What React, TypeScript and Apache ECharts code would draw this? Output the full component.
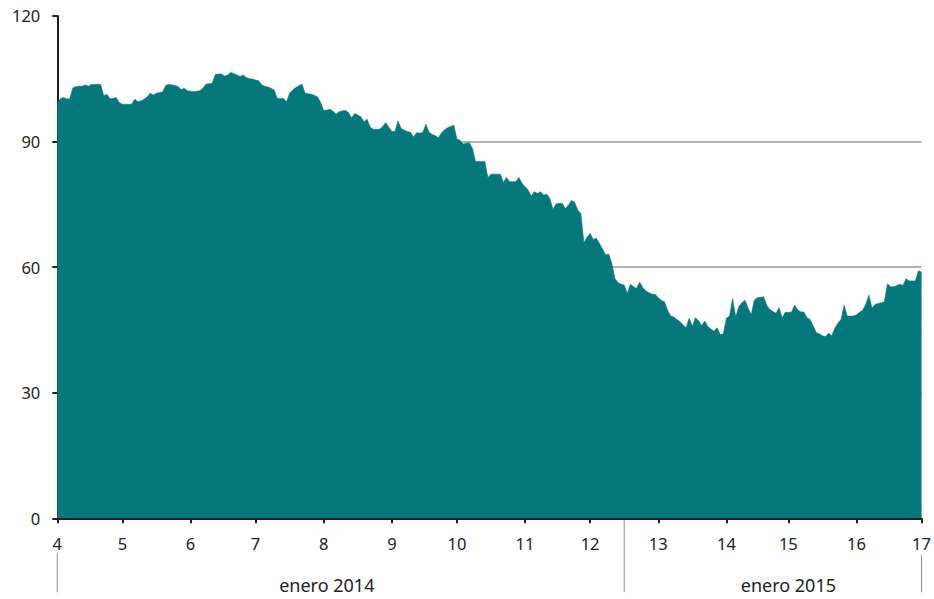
import React, { useEffect, useRef } from "react";
import * as echarts from "echarts";

// Tick labels shown along the x axis and the number of daily points between consecutive ticks
const tickLabels = ["4", "5", "6", "7", "8", "9", "10", "11", "12", "13", "14", "15", "16", "17"];
const daysBetweenTicks = [21, 22, 21, 22, 22, 21, 22, 21, 22, 22, 20, 22, 21];

// Group labels under the axis
const groupLabels = ["enero 2014", "enero 2015"];

// Y axis ticks
const yTicks = [0, 30, 60, 90, 120];

// Daily values
const values = [
  99.1, 100.2, 100.5, 100.2, 100.1, 102.8, 103.1, 103.2, 103.2, 103.5,
  103.2, 103.6, 103.6, 103.7, 103.6, 100.9, 101.3, 100.2, 100.3, 100.5,
  99.3, 98.9, 98.9, 98.9, 98.9, 100.1, 99.5, 99.7, 100.1, 100.6,
  101.5, 101.1, 101.5, 101.7, 101.8, 103.4, 103.6, 103.5, 103.4, 103.1,
  102.4, 102.7, 102.1, 102.0, 101.9, 102.0, 102.1, 102.7, 103.7, 103.8,
  103.9, 106.0, 106.1, 106.1, 105.6, 105.9, 106.5, 106.2, 105.9, 105.5,
  105.9, 105.3, 105.0, 104.9, 104.7, 104.5, 103.5, 103.2, 103.0, 102.7,
  102.3, 100.3, 100.3, 100.3, 99.5, 101.5, 102.3, 102.9, 103.3, 103.7,
  101.5, 101.4, 101.3, 101.0, 100.7, 99.3, 97.4, 97.5, 97.7, 97.2,
  96.5, 97.1, 97.3, 97.4, 96.9, 95.6, 96.7, 96.3, 95.9, 94.7,
  95.3, 93.4, 92.9, 92.9, 92.9, 93.5, 94.5, 93.4, 92.4, 92.4,
  94.9, 93.1, 92.7, 92.4, 92.2, 91.1, 92.1, 92.0, 92.2, 94.1,
  92.2, 91.7, 91.4, 90.9, 92.0, 92.8, 93.3, 93.6, 93.9, 90.6,
  90.3, 89.4, 89.6, 89.7, 88.4, 85.2, 85.2, 85.2, 85.2, 81.4,
  82.2, 82.2, 82.2, 82.2, 80.2, 81.4, 80.4, 80.4, 80.4, 81.4,
  80.0, 79.2, 78.4, 77.0, 78.0, 77.6, 78.0, 77.2, 77.4, 76.4,
  73.8, 75.1, 75.2, 75.2, 74.0, 74.8, 75.9, 75.5, 73.6, 72.8,
  65.8, 67.1, 68.1, 66.6, 66.9, 65.7, 64.3, 62.9, 63.1, 60.9,
  57.3, 56.3, 55.9, 55.7, 53.7, 55.9, 55.3, 54.9, 56.4, 55.1,
  54.3, 53.9, 53.5, 53.5, 52.7, 52.0, 51.7, 49.7, 48.3, 48.1,
  47.5, 47.0, 46.2, 45.5, 47.8, 45.9, 47.9, 47.2, 46.0, 47.1,
  45.8, 45.2, 44.7, 45.5, 43.9, 44.0, 47.8, 48.3, 52.5, 48.1,
  50.5, 51.5, 52.1, 50.2, 48.6, 52.1, 52.7, 52.8, 52.9, 50.9,
  49.9, 49.4, 49.0, 50.3, 47.9, 49.2, 49.2, 49.2, 50.9, 49.8,
  49.3, 49.3, 47.9, 47.5, 46.0, 44.4, 44.0, 43.6, 43.4, 44.2,
  43.6, 45.4, 46.6, 47.5, 50.9, 48.3, 48.3, 48.3, 48.6, 49.2,
  49.7, 51.1, 53.3, 50.2, 51.1, 51.3, 51.5, 51.7, 56.0, 55.3,
  55.3, 55.6, 55.9, 55.6, 57.2, 56.7, 56.7, 56.7, 59.1, 58.8,
];

const TEXT = "#222222";
const AXIS = "#231f20";
const FILL = "#06777a";
const FONT = "'Noto Sans', sans-serif";

export default function App() {
  const ref = useRef<HTMLDivElement>(null);

  useEffect(() => {
    if (!ref.current) return;
    const chart = echarts.init(ref.current, undefined, { renderer: "svg" });

    const tickIndex: number[] = [0];
    daysBetweenTicks.forEach((d) => tickIndex.push(tickIndex[tickIndex.length - 1] + d));
    const labelAt = new Map<number, string>();
    tickIndex.forEach((ix, i) => labelAt.set(ix, tickLabels[i]));
    const categories = values.map((_, i) => String(i));

    chart.setOption({
      animation: false,
      grid: { left: 57.3, right: 11.3, top: 15.9, bottom: 80.7, containLabel: false },
      xAxis: {
        type: "category",
        data: categories,
        boundaryGap: false,
        axisLine: { show: true, lineStyle: { color: AXIS, width: 2 } },
        axisTick: {
          show: true,
          length: 5,
          interval: (index: number) => labelAt.has(index),
          lineStyle: { color: AXIS, width: 2 },
        },
        axisLabel: {
          interval: (index: number) => labelAt.has(index),
          formatter: (_v: string, index: number) => labelAt.get(index) ?? "",
          color: TEXT,
          fontFamily: FONT,
          fontSize: 16.5,
          margin: 17,
        },
        splitLine: { show: false },
      },
      yAxis: {
        type: "value",
        min: yTicks[0],
        max: yTicks[yTicks.length - 1],
        interval: yTicks[1] - yTicks[0],
        axisLine: { show: true, lineStyle: { color: AXIS, width: 2 } },
        axisTick: { show: true, length: 5, lineStyle: { color: AXIS, width: 2 } },
        axisLabel: { color: TEXT, fontFamily: FONT, fontSize: 16.5, margin: 17 },
        splitLine: {
          show: true,
          showMaxLine: false,
          showMinLine: false,
          lineStyle: { color: "#9a9a9a", width: 1.5 },
        },
      },
      series: [
        {
          type: "line",
          data: values,
          symbol: "none",
          lineStyle: { width: 0.6, color: FILL },
          areaStyle: { color: FILL, opacity: 1 },
          z: 3,
        },
      ],
    });

    const px = (ix: number) => chart.convertToPixel({ xAxisIndex: 0 }, ix) as number;
    const y0 = chart.convertToPixel({ yAxisIndex: 0 }, 0) as number;
    const xStart = px(0);
    const xEnd = px(values.length - 1);
    const xSep = (px(tickIndex[8]) + px(tickIndex[9])) / 2;
    const c1 = px(tickIndex[4] + 1);
    const c2 = px(tickIndex[11]);

    const vline = (x: number, top: number) => ({
      type: "line",
      shape: { x1: x, y1: y0 + top, x2: x, y2: y0 + 74 },
      style: { stroke: "#8c8c8c", lineWidth: 1 },
    });
    const label = (x: number, text: string) => ({
      type: "text",
      x,
      y: y0 + 67,
      style: {
        text,
        fill: TEXT,
        font: `18px ${FONT}`,
        align: "center",
        verticalAlign: "middle",
      },
    });

    chart.setOption({
      graphic: [
        vline(xStart, 35),
        vline(xSep, 2),
        vline(xEnd, 37),
        label(c1, groupLabels[0]),
        label(c2, groupLabels[1]),
      ],
    });

    return () => chart.dispose();
  }, []);

  return (
    <div
      ref={ref}
      style={{ position: "absolute", left: 0, top: 0, width: 934, height: 599 }}
    />
  );
}
